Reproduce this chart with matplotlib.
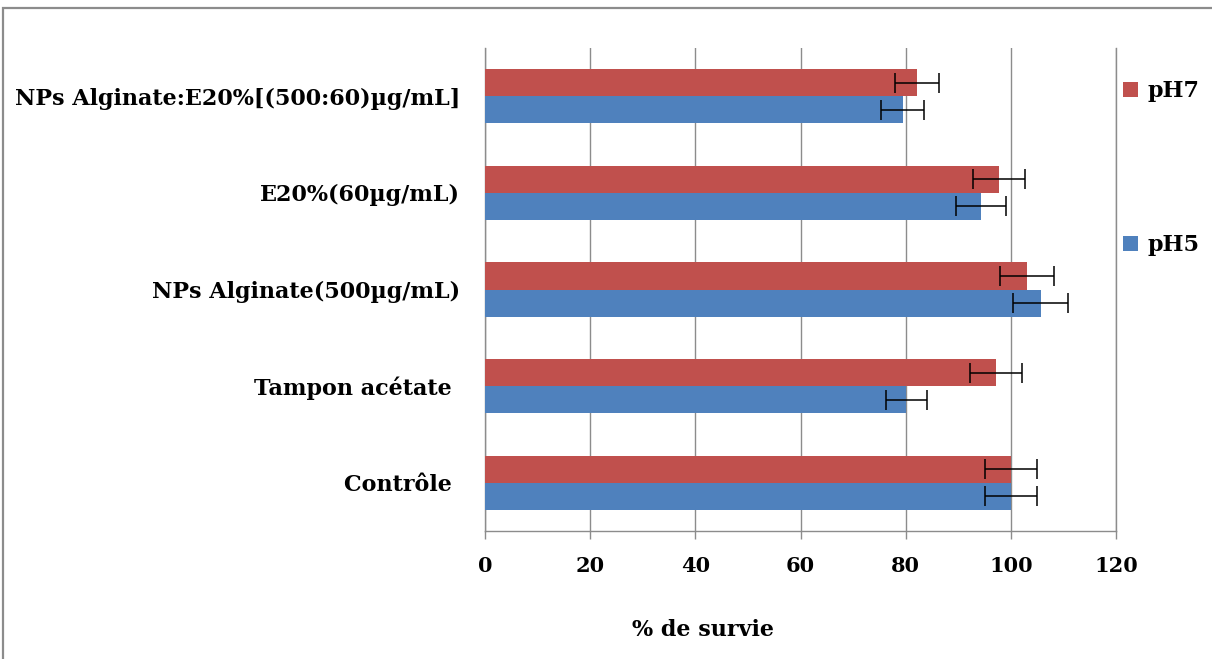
import matplotlib.pyplot as plt
import matplotlib.patches as patches
import numpy as np

# data (bottom to top)
categories = ["Contrôle ", "Tampon acétate ", "NPs Alginate(500µg/mL)",
              "E20%(60µg/mL)", "NPs Alginate:E20%[(500:60)µg/mL]"]
ph7 = [100, 97.2, 103.1, 97.7, 82.1]
ph7_err = [5, 4.9, 5.1, 4.9, 4.2]
ph5 = [100, 80.1, 105.7, 94.3, 79.4]
ph5_err = [5, 3.9, 5.2, 4.8, 4.0]
xticks = [0, 20, 40, 60, 80, 100, 120]

RED = "#C0504D"
BLUE = "#4F81BD"
GRID = "#8C8C8C"
FS = 16

plt.rcParams['font.family'] = ['DejaVu Serif']
plt.rcParams['font.weight'] = 'bold'

fig = plt.figure(figsize=(12.12, 6.59), dpi=100)
ax = fig.add_axes([485 / 1212, 1 - 531 / 659, 631 / 1212, 483 / 659])

y = np.arange(len(categories))
h = 0.28
err_kw = dict(ecolor='black', elinewidth=1.1, capsize=7, capthick=1.1)

ax.barh(y + h / 2, ph7, height=h, color=RED, xerr=ph7_err,
        error_kw=err_kw, label='pH7', zorder=3)
ax.barh(y - h / 2, ph5, height=h, color=BLUE, xerr=ph5_err,
        error_kw=err_kw, label='pH5', zorder=3)

ax.set_xlim(0, 120)
ax.set_ylim(-0.5, len(categories) - 0.5)
ax.set_xticks(xticks)
ax.set_yticks(y)
ax.set_yticklabels(categories)
ax.tick_params(axis='x', length=6, width=1, color=GRID, pad=12, labelsize=15)
ax.tick_params(axis='y', length=0, pad=18, labelsize=FS)

ax.grid(axis='x', color=GRID, linewidth=1, zorder=0)
ax.set_axisbelow(True)
ax.spines['top'].set_visible(False)
for side in ['left', 'bottom', 'right']:
    ax.spines[side].set_color(GRID)
    ax.spines[side].set_linewidth(1)

fig.text(703 / 1212, 1 - 630 / 659, "% de survie", ha='center', va='center',
         fontsize=FS, fontweight='bold')

leg = ax.legend(loc='upper left', bbox_to_anchor=(0.98, 0.975), frameon=False,
                fontsize=FS, handlelength=0.65, handleheight=0.65,
                handletextpad=0.45, labelspacing=5.95)

# outer chart frame
fig.patches.append(patches.Rectangle((3 / 1212, -0.05), 1.1, 1 - 8 / 659 + 0.05,
                                     transform=fig.transFigure, fill=False,
                                     edgecolor=GRID, linewidth=1.6))

fig.savefig("out.png", dpi=100)
